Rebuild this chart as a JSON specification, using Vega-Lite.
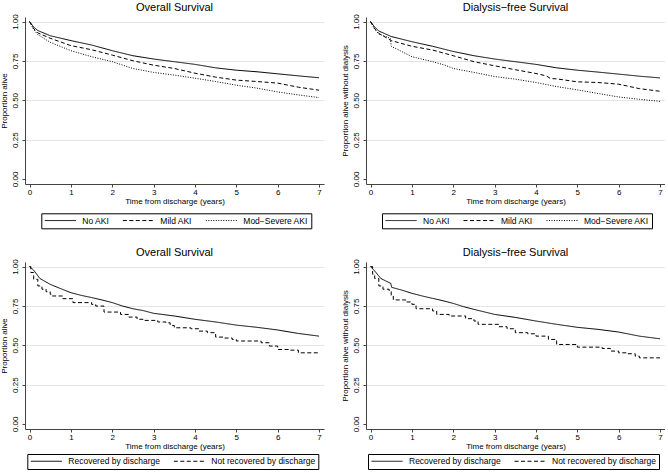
{
  "$schema": "https://vega.github.io/schema/vega-lite/v6.json",
  "padding": {"left": 0, "top": 1, "right": 0, "bottom": 0},
  "background": "white",
  "datasets": {
    "p1": [
      {"t": 0, "s": 1, "g": "No AKI"}, {"t": 0.1, "s": 0.965, "g": "No AKI"}, {"t": 0.2, "s": 0.943, "g": "No AKI"}, {"t": 0.5, "s": 0.91, "g": "No AKI"}, {"t": 1, "s": 0.879, "g": "No AKI"}, {"t": 1.5, "s": 0.851, "g": "No AKI"}, {"t": 2, "s": 0.815, "g": "No AKI"}, {"t": 2.5, "s": 0.783, "g": "No AKI"}, {"t": 3, "s": 0.762, "g": "No AKI"}, {"t": 3.5, "s": 0.745, "g": "No AKI"}, {"t": 4, "s": 0.728, "g": "No AKI"}, {"t": 4.5, "s": 0.706, "g": "No AKI"}, {"t": 5, "s": 0.691, "g": "No AKI"}, {"t": 5.5, "s": 0.681, "g": "No AKI"}, {"t": 6, "s": 0.668, "g": "No AKI"}, {"t": 6.5, "s": 0.655, "g": "No AKI"}, {"t": 7, "s": 0.643, "g": "No AKI"},
      {"t": 0, "s": 1, "g": "Mild AKI"}, {"t": 0.1, "s": 0.955, "g": "Mild AKI"}, {"t": 0.2, "s": 0.928, "g": "Mild AKI"}, {"t": 0.5, "s": 0.894, "g": "Mild AKI"}, {"t": 1, "s": 0.847, "g": "Mild AKI"}, {"t": 1.5, "s": 0.821, "g": "Mild AKI"}, {"t": 2, "s": 0.787, "g": "Mild AKI"}, {"t": 2.5, "s": 0.751, "g": "Mild AKI"}, {"t": 3, "s": 0.723, "g": "Mild AKI"}, {"t": 3.5, "s": 0.702, "g": "Mild AKI"}, {"t": 4, "s": 0.672, "g": "Mild AKI"}, {"t": 4.5, "s": 0.647, "g": "Mild AKI"}, {"t": 5, "s": 0.628, "g": "Mild AKI"}, {"t": 5.5, "s": 0.619, "g": "Mild AKI"}, {"t": 6, "s": 0.609, "g": "Mild AKI"}, {"t": 6.5, "s": 0.583, "g": "Mild AKI"}, {"t": 7, "s": 0.564, "g": "Mild AKI"},
      {"t": 0, "s": 1, "g": "Mod−Severe AKI"}, {"t": 0.1, "s": 0.95, "g": "Mod−Severe AKI"}, {"t": 0.2, "s": 0.917, "g": "Mod−Severe AKI"}, {"t": 0.5, "s": 0.868, "g": "Mod−Severe AKI"}, {"t": 1, "s": 0.815, "g": "Mod−Severe AKI"}, {"t": 1.5, "s": 0.777, "g": "Mod−Severe AKI"}, {"t": 2, "s": 0.745, "g": "Mod−Severe AKI"}, {"t": 2.5, "s": 0.702, "g": "Mod−Severe AKI"}, {"t": 3, "s": 0.677, "g": "Mod−Severe AKI"}, {"t": 3.5, "s": 0.66, "g": "Mod−Severe AKI"}, {"t": 4, "s": 0.64, "g": "Mod−Severe AKI"}, {"t": 4.5, "s": 0.619, "g": "Mod−Severe AKI"}, {"t": 5, "s": 0.596, "g": "Mod−Severe AKI"}, {"t": 5.5, "s": 0.577, "g": "Mod−Severe AKI"}, {"t": 6, "s": 0.553, "g": "Mod−Severe AKI"}, {"t": 6.5, "s": 0.534, "g": "Mod−Severe AKI"}, {"t": 7, "s": 0.517, "g": "Mod−Severe AKI"}
    ],
    "p2": [
      {"t": 0, "s": 1, "g": "No AKI"}, {"t": 0.1, "s": 0.965, "g": "No AKI"}, {"t": 0.2, "s": 0.94, "g": "No AKI"}, {"t": 0.5, "s": 0.905, "g": "No AKI"}, {"t": 1, "s": 0.872, "g": "No AKI"}, {"t": 1.5, "s": 0.843, "g": "No AKI"}, {"t": 2, "s": 0.81, "g": "No AKI"}, {"t": 2.5, "s": 0.783, "g": "No AKI"}, {"t": 3, "s": 0.762, "g": "No AKI"}, {"t": 3.5, "s": 0.745, "g": "No AKI"}, {"t": 4, "s": 0.728, "g": "No AKI"}, {"t": 4.5, "s": 0.706, "g": "No AKI"}, {"t": 5, "s": 0.691, "g": "No AKI"}, {"t": 5.5, "s": 0.679, "g": "No AKI"}, {"t": 6, "s": 0.666, "g": "No AKI"}, {"t": 6.5, "s": 0.653, "g": "No AKI"}, {"t": 7, "s": 0.642, "g": "No AKI"},
      {"t": 0, "s": 1, "g": "Mild AKI"}, {"t": 0.1, "s": 0.955, "g": "Mild AKI"}, {"t": 0.2, "s": 0.925, "g": "Mild AKI"}, {"t": 0.5, "s": 0.879, "g": "Mild AKI"}, {"t": 1, "s": 0.843, "g": "Mild AKI"}, {"t": 1.5, "s": 0.819, "g": "Mild AKI"}, {"t": 2, "s": 0.783, "g": "Mild AKI"}, {"t": 2.5, "s": 0.745, "g": "Mild AKI"}, {"t": 3, "s": 0.719, "g": "Mild AKI"}, {"t": 3.5, "s": 0.694, "g": "Mild AKI"}, {"t": 4, "s": 0.67, "g": "Mild AKI"}, {"t": 4.25, "s": 0.655, "g": "Mild AKI"}, {"t": 4.35, "s": 0.638, "g": "Mild AKI"}, {"t": 4.5, "s": 0.636, "g": "Mild AKI"}, {"t": 5, "s": 0.617, "g": "Mild AKI"}, {"t": 5.5, "s": 0.613, "g": "Mild AKI"}, {"t": 6, "s": 0.602, "g": "Mild AKI"}, {"t": 6.5, "s": 0.574, "g": "Mild AKI"}, {"t": 7, "s": 0.557, "g": "Mild AKI"},
      {"t": 0, "s": 1, "g": "Mod−Severe AKI"}, {"t": 0.1, "s": 0.952, "g": "Mod−Severe AKI"}, {"t": 0.2, "s": 0.921, "g": "Mod−Severe AKI"}, {"t": 0.48, "s": 0.894, "g": "Mod−Severe AKI"}, {"t": 0.5, "s": 0.843, "g": "Mod−Severe AKI"}, {"t": 1, "s": 0.777, "g": "Mod−Severe AKI"}, {"t": 1.5, "s": 0.745, "g": "Mod−Severe AKI"}, {"t": 1.8, "s": 0.723, "g": "Mod−Severe AKI"}, {"t": 2, "s": 0.702, "g": "Mod−Severe AKI"}, {"t": 2.5, "s": 0.677, "g": "Mod−Severe AKI"}, {"t": 3, "s": 0.651, "g": "Mod−Severe AKI"}, {"t": 3.5, "s": 0.634, "g": "Mod−Severe AKI"}, {"t": 4, "s": 0.613, "g": "Mod−Severe AKI"}, {"t": 4.5, "s": 0.587, "g": "Mod−Severe AKI"}, {"t": 5, "s": 0.566, "g": "Mod−Severe AKI"}, {"t": 5.5, "s": 0.543, "g": "Mod−Severe AKI"}, {"t": 6, "s": 0.521, "g": "Mod−Severe AKI"}, {"t": 6.5, "s": 0.506, "g": "Mod−Severe AKI"}, {"t": 7, "s": 0.493, "g": "Mod−Severe AKI"}
    ],
    "p3": [
      {"t": 0, "s": 1, "g": "Recovered by discharge"}, {"t": 0.1, "s": 0.977, "g": "Recovered by discharge"}, {"t": 0.25, "s": 0.924, "g": "Recovered by discharge"}, {"t": 0.5, "s": 0.887, "g": "Recovered by discharge"}, {"t": 0.75, "s": 0.86, "g": "Recovered by discharge"}, {"t": 1, "s": 0.834, "g": "Recovered by discharge"}, {"t": 1.25, "s": 0.817, "g": "Recovered by discharge"}, {"t": 1.5, "s": 0.803, "g": "Recovered by discharge"}, {"t": 1.75, "s": 0.788, "g": "Recovered by discharge"}, {"t": 2, "s": 0.771, "g": "Recovered by discharge"}, {"t": 2.25, "s": 0.749, "g": "Recovered by discharge"}, {"t": 2.5, "s": 0.732, "g": "Recovered by discharge"}, {"t": 2.75, "s": 0.72, "g": "Recovered by discharge"}, {"t": 3, "s": 0.703, "g": "Recovered by discharge"}, {"t": 3.5, "s": 0.686, "g": "Recovered by discharge"}, {"t": 4, "s": 0.665, "g": "Recovered by discharge"}, {"t": 4.5, "s": 0.648, "g": "Recovered by discharge"}, {"t": 5, "s": 0.628, "g": "Recovered by discharge"}, {"t": 5.5, "s": 0.614, "g": "Recovered by discharge"}, {"t": 6, "s": 0.597, "g": "Recovered by discharge"}, {"t": 6.5, "s": 0.575, "g": "Recovered by discharge"}, {"t": 7, "s": 0.558, "g": "Recovered by discharge"},
      {"t": 0, "s": 1, "g": "Not recovered by discharge"}, {"t": 0.03, "s": 0.962, "g": "Not recovered by discharge"}, {"t": 0.1, "s": 0.919, "g": "Not recovered by discharge"}, {"t": 0.2, "s": 0.877, "g": "Not recovered by discharge"}, {"t": 0.3, "s": 0.856, "g": "Not recovered by discharge"}, {"t": 0.4, "s": 0.84, "g": "Not recovered by discharge"}, {"t": 0.5, "s": 0.824, "g": "Not recovered by discharge"}, {"t": 0.55, "s": 0.813, "g": "Not recovered by discharge"}, {"t": 0.8, "s": 0.796, "g": "Not recovered by discharge"}, {"t": 1.05, "s": 0.771, "g": "Not recovered by discharge"}, {"t": 1.5, "s": 0.76, "g": "Not recovered by discharge"}, {"t": 1.6, "s": 0.749, "g": "Not recovered by discharge"}, {"t": 1.8, "s": 0.711, "g": "Not recovered by discharge"}, {"t": 2.2, "s": 0.696, "g": "Not recovered by discharge"}, {"t": 2.4, "s": 0.679, "g": "Not recovered by discharge"}, {"t": 2.6, "s": 0.665, "g": "Not recovered by discharge"}, {"t": 2.75, "s": 0.658, "g": "Not recovered by discharge"}, {"t": 3.1, "s": 0.648, "g": "Not recovered by discharge"}, {"t": 3.3, "s": 0.643, "g": "Not recovered by discharge"}, {"t": 3.4, "s": 0.626, "g": "Not recovered by discharge"}, {"t": 3.5, "s": 0.611, "g": "Not recovered by discharge"}, {"t": 3.9, "s": 0.605, "g": "Not recovered by discharge"}, {"t": 4.1, "s": 0.59, "g": "Not recovered by discharge"}, {"t": 4.3, "s": 0.58, "g": "Not recovered by discharge"}, {"t": 4.5, "s": 0.552, "g": "Not recovered by discharge"}, {"t": 4.7, "s": 0.546, "g": "Not recovered by discharge"}, {"t": 4.9, "s": 0.537, "g": "Not recovered by discharge"}, {"t": 5.0, "s": 0.527, "g": "Not recovered by discharge"}, {"t": 5.6, "s": 0.516, "g": "Not recovered by discharge"}, {"t": 5.8, "s": 0.495, "g": "Not recovered by discharge"}, {"t": 6.0, "s": 0.473, "g": "Not recovered by discharge"}, {"t": 6.3, "s": 0.469, "g": "Not recovered by discharge"}, {"t": 6.5, "s": 0.452, "g": "Not recovered by discharge"}, {"t": 7.0, "s": 0.452, "g": "Not recovered by discharge"}
    ],
    "p4": [
      {"t": 0, "s": 1, "g": "Recovered by discharge"}, {"t": 0.1, "s": 0.972, "g": "Recovered by discharge"}, {"t": 0.25, "s": 0.924, "g": "Recovered by discharge"}, {"t": 0.45, "s": 0.898, "g": "Recovered by discharge"}, {"t": 0.49, "s": 0.893, "g": "Recovered by discharge"}, {"t": 0.51, "s": 0.868, "g": "Recovered by discharge"}, {"t": 0.75, "s": 0.851, "g": "Recovered by discharge"}, {"t": 1, "s": 0.83, "g": "Recovered by discharge"}, {"t": 1.25, "s": 0.813, "g": "Recovered by discharge"}, {"t": 1.5, "s": 0.798, "g": "Recovered by discharge"}, {"t": 1.75, "s": 0.783, "g": "Recovered by discharge"}, {"t": 2, "s": 0.766, "g": "Recovered by discharge"}, {"t": 2.25, "s": 0.745, "g": "Recovered by discharge"}, {"t": 2.5, "s": 0.728, "g": "Recovered by discharge"}, {"t": 3, "s": 0.696, "g": "Recovered by discharge"}, {"t": 3.5, "s": 0.677, "g": "Recovered by discharge"}, {"t": 4, "s": 0.654, "g": "Recovered by discharge"}, {"t": 4.5, "s": 0.633, "g": "Recovered by discharge"}, {"t": 5, "s": 0.614, "g": "Recovered by discharge"}, {"t": 5.5, "s": 0.601, "g": "Recovered by discharge"}, {"t": 6, "s": 0.584, "g": "Recovered by discharge"}, {"t": 6.5, "s": 0.558, "g": "Recovered by discharge"}, {"t": 7, "s": 0.541, "g": "Recovered by discharge"},
      {"t": 0, "s": 1, "g": "Not recovered by discharge"}, {"t": 0.05, "s": 0.951, "g": "Not recovered by discharge"}, {"t": 0.1, "s": 0.924, "g": "Not recovered by discharge"}, {"t": 0.2, "s": 0.877, "g": "Not recovered by discharge"}, {"t": 0.3, "s": 0.856, "g": "Not recovered by discharge"}, {"t": 0.45, "s": 0.845, "g": "Not recovered by discharge"}, {"t": 0.5, "s": 0.813, "g": "Not recovered by discharge"}, {"t": 0.55, "s": 0.788, "g": "Not recovered by discharge"}, {"t": 0.85, "s": 0.775, "g": "Not recovered by discharge"}, {"t": 1.0, "s": 0.76, "g": "Not recovered by discharge"}, {"t": 1.1, "s": 0.732, "g": "Not recovered by discharge"}, {"t": 1.5, "s": 0.718, "g": "Not recovered by discharge"}, {"t": 1.6, "s": 0.696, "g": "Not recovered by discharge"}, {"t": 1.9, "s": 0.686, "g": "Not recovered by discharge"}, {"t": 2.3, "s": 0.669, "g": "Not recovered by discharge"}, {"t": 2.5, "s": 0.654, "g": "Not recovered by discharge"}, {"t": 2.6, "s": 0.633, "g": "Not recovered by discharge"}, {"t": 3.1, "s": 0.618, "g": "Not recovered by discharge"}, {"t": 3.3, "s": 0.605, "g": "Not recovered by discharge"}, {"t": 3.5, "s": 0.58, "g": "Not recovered by discharge"}, {"t": 3.8, "s": 0.573, "g": "Not recovered by discharge"}, {"t": 4.0, "s": 0.558, "g": "Not recovered by discharge"}, {"t": 4.3, "s": 0.537, "g": "Not recovered by discharge"}, {"t": 4.5, "s": 0.505, "g": "Not recovered by discharge"}, {"t": 5.0, "s": 0.488, "g": "Not recovered by discharge"}, {"t": 5.6, "s": 0.48, "g": "Not recovered by discharge"}, {"t": 5.8, "s": 0.463, "g": "Not recovered by discharge"}, {"t": 6.0, "s": 0.452, "g": "Not recovered by discharge"}, {"t": 6.2, "s": 0.446, "g": "Not recovered by discharge"}, {"t": 6.4, "s": 0.431, "g": "Not recovered by discharge"}, {"t": 6.5, "s": 0.42, "g": "Not recovered by discharge"}, {"t": 7.0, "s": 0.42, "g": "Not recovered by discharge"}
    ]
  },
  "columns": 2,
  "spacing": {"row": 17, "column": 17},
  "resolve": {
    "scale": {"strokeDash": "independent", "x": "independent", "y": "independent"},
    "legend": {"strokeDash": "independent"}
  },
  "concat": [
    {
      "width": 299, "height": 167,
      "title": {"text": "Overall Survival"},
      "data": {"name": "p1"},
      "mark": {"type": "line", "color": "#000", "strokeWidth": 1},
      "encoding": {
        "x": {"field": "t", "type": "quantitative", "scale": {"domain": [-0.11, 7.12], "nice": false, "zero": false}, "axis": {"values": [0,1,2,3,4,5,6,7], "title": "Time from discharge (years)"}},
        "y": {"field": "s", "type": "quantitative", "scale": {"domain": [-0.032, 1.029], "nice": false, "zero": false}, "axis": {"values": [0,0.25,0.5,0.75,1], "format": ".2f", "title": "Proportion alive"}},
        "strokeDash": {"field": "g", "type": "nominal", "scale": {"domain": ["No AKI", "Mild AKI", "Mod−Severe AKI"], "range": [[1,0],[4,2.5],[1,1.5]]},
          "legend": {"orient": "none", "legendX": 16.3, "legendY": 196.3, "direction": "horizontal", "columns": 3, "columnPadding": 13}}
      }
    },
    {
      "width": 299, "height": 167,
      "title": {"text": "Dialysis−free Survival"},
      "data": {"name": "p2"},
      "mark": {"type": "line", "color": "#000", "strokeWidth": 1},
      "encoding": {
        "x": {"field": "t", "type": "quantitative", "scale": {"domain": [-0.11, 7.12], "nice": false, "zero": false}, "axis": {"values": [0,1,2,3,4,5,6,7], "title": "Time from discharge (years)"}},
        "y": {"field": "s", "type": "quantitative", "scale": {"domain": [-0.032, 1.029], "nice": false, "zero": false}, "axis": {"values": [0,0.25,0.5,0.75,1], "format": ".2f", "title": "Proportion alive without dialysis"}},
        "strokeDash": {"field": "g", "type": "nominal", "scale": {"domain": ["No AKI", "Mild AKI", "Mod−Severe AKI"], "range": [[1,0],[4,2.5],[1,1.5]]},
          "legend": {"orient": "none", "legendX": 16, "legendY": 196.3, "direction": "horizontal", "columns": 3, "columnPadding": 13}}
      }
    },
    {
      "width": 299, "height": 167,
      "title": {"text": "Overall Survival"},
      "data": {"name": "p3"},
      "encoding": {
        "x": {"field": "t", "type": "quantitative", "scale": {"domain": [-0.11, 7.12], "nice": false, "zero": false}, "axis": {"values": [0,1,2,3,4,5,6,7], "title": "Time from discharge (years)"}},
        "y": {"field": "s", "type": "quantitative", "scale": {"domain": [-0.032, 1.029], "nice": false, "zero": false}, "axis": {"values": [0,0.25,0.5,0.75,1], "format": ".2f", "title": "Proportion alive"}},
        "strokeDash": {"field": "g", "type": "nominal", "scale": {"domain": ["Recovered by discharge", "Not recovered by discharge"], "range": [[1,0],[4,2.5]]},
          "legend": {"orient": "none", "legendX": 2.3, "legendY": 192, "direction": "horizontal", "columns": 2, "columnPadding": 13}}
      },
      "layer": [
        {"transform": [{"filter": "datum.g === 'Recovered by discharge'"}], "mark": {"type": "line", "color": "#000", "strokeWidth": 1}},
        {"transform": [{"filter": "datum.g !== 'Recovered by discharge'"}], "mark": {"type": "line", "color": "#000", "strokeWidth": 1, "interpolate": "step-after"}}
      ]
    },
    {
      "width": 299, "height": 167,
      "title": {"text": "Dialysis−free Survival"},
      "data": {"name": "p4"},
      "encoding": {
        "x": {"field": "t", "type": "quantitative", "scale": {"domain": [-0.11, 7.12], "nice": false, "zero": false}, "axis": {"values": [0,1,2,3,4,5,6,7], "title": "Time from discharge (years)"}},
        "y": {"field": "s", "type": "quantitative", "scale": {"domain": [-0.032, 1.029], "nice": false, "zero": false}, "axis": {"values": [0,0.25,0.5,0.75,1], "format": ".2f", "title": "Proportion alive without dialysis"}},
        "strokeDash": {"field": "g", "type": "nominal", "scale": {"domain": ["Recovered by discharge", "Not recovered by discharge"], "range": [[1,0],[4,2.5]]},
          "legend": {"orient": "none", "legendX": 2, "legendY": 192, "direction": "horizontal", "columns": 2, "columnPadding": 13}}
      },
      "layer": [
        {"transform": [{"filter": "datum.g === 'Recovered by discharge'"}], "mark": {"type": "line", "color": "#000", "strokeWidth": 1}},
        {"transform": [{"filter": "datum.g !== 'Recovered by discharge'"}], "mark": {"type": "line", "color": "#000", "strokeWidth": 1, "interpolate": "step-after"}}
      ]
    }
  ],
  "config": {
    "font": "Liberation Sans",
    "view": {"stroke": null},
    "title": {"fontSize": 11, "fontWeight": "normal", "color": "#000", "offset": 1, "anchor": "middle", "frame": "group"},
    "axis": {
      "domainColor": "#444", "domainWidth": 1, "tickColor": "#444", "tickSize": 3,
      "labelColor": "#000", "labelFontSize": 8, "labelFont": "Liberation Sans",
      "titleColor": "#000", "titleFontSize": 8, "titleFontWeight": "normal", "titleFont": "Liberation Sans",
      "labelFlush": false, "labelOverlap": false, "labelBound": false
    },
    "axisX": {"grid": false, "labelPadding": 1, "titlePadding": 1},
    "axisY": {
      "grid": true, "gridColor": "#e4e4e4", "gridWidth": 1,
      "gridOpacity": {"condition": {"test": "datum.value === 0", "value": 0}, "value": 1},
      "labelAngle": -90, "labelAlign": "center", "labelBaseline": "bottom", "labelPadding": 3, "titlePadding": 3
    },
    "legend": {
      "title": null, "symbolType": "stroke", "symbolSize": 961, "symbolStrokeWidth": 1, "symbolStrokeColor": "#000",
      "labelFont": "Liberation Sans", "labelFontSize": 8.5, "labelColor": "#000", "labelOffset": 6, "labelLimit": 300,
      "padding": 3, "clipHeight": 8, "strokeColor": "#000", "fillColor": "white", "rowPadding": 0
    }
  }
}
